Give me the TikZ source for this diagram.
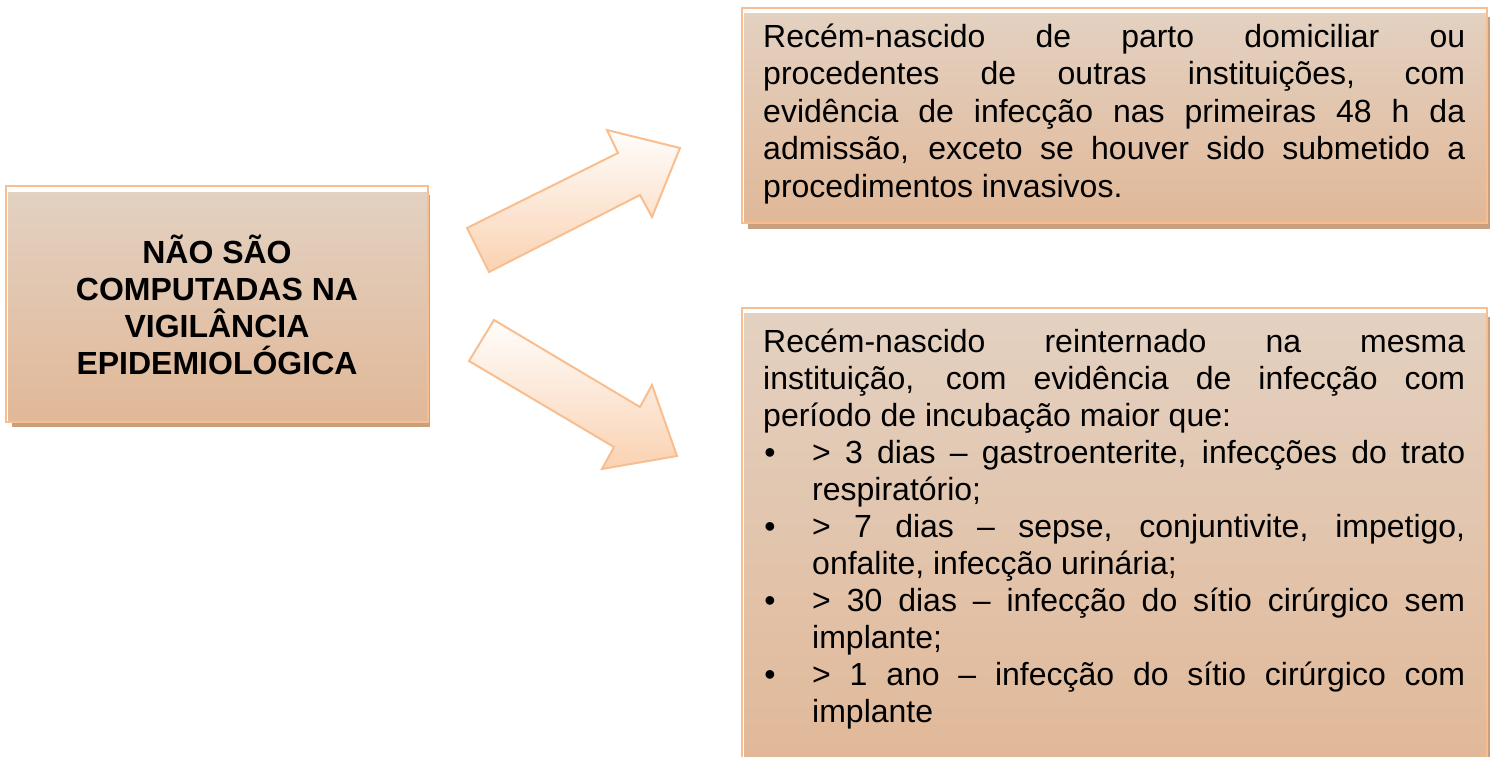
\documentclass[tikz,border=0pt]{standalone}
\usepackage{fontspec}
\setmainfont{Liberation Sans}
\definecolor{edgec}{RGB}{249,190,143}
\definecolor{shadowc}{RGB}{201,160,126}
\definecolor{boxtop}{RGB}{227,209,193}
\definecolor{boxbot}{RGB}{225,184,152}
\definecolor{arrtop}{RGB}{255,253,251}
\definecolor{arrbot}{RGB}{250,210,178}
\begin{document}
\begin{tikzpicture}[x=1pt,y=-1pt,
  boxfill/.style={shading=axis, top color=boxtop, bottom color=boxbot, draw=none},
  boxshadow/.style={fill=shadowc, draw=none},
  boxline/.style={draw=edgec, line width=2pt, inner sep=0pt, outer sep=0pt, anchor=north west},
  arrowshape/.style={draw=edgec, line width=2pt, top color=arrtop, bottom color=arrbot, line join=miter},
  rtext/.style={anchor=base west, inner sep=0pt, font=\fontsize{32}{37.5}\selectfont},
  bul/.style={anchor=base, inner sep=0pt, font=\fontsize{32}{37.5}\selectfont},
  ltext/.style={anchor=base, inner sep=0pt, font=\fontsize{32}{37}\selectfont\bfseries}]
\useasboundingbox (0,0) rectangle (1491,756);
% left box
\fill[boxshadow] (12,195) rectangle (430,427);
\fill[boxfill] (8,192) rectangle (427,421);
\node[boxline, minimum width=422pt, minimum height=236pt] (A) at (6,186) {};
% top right box
\fill[boxshadow] (748,17) rectangle (1490,229);
\fill[boxfill] (744,13) rectangle (1487,222);
\node[boxline, minimum width=745pt, minimum height=215pt] (B) at (742,8) {};
% bottom right box
\fill[boxshadow] (748,317) rectangle (1490,770);
\fill[boxfill] (744,313) rectangle (1487,770);
\node[boxline, minimum width=745pt, minimum height=460pt] (C) at (742,308) {};
% arrows
\draw[arrowshape] (467,228) -- (489,272) -- (640,195) -- (652,217) -- (680,148) -- (607,130) -- (618,153) -- cycle;
\draw[arrowshape] (494,320) -- (469,361) -- (614,447) -- (602,469) -- (677,456) -- (652,385) -- (640,407) -- cycle;
% left text
\node[ltext] (l1) at (217,263) {NÃO SÃO};
\node[ltext] (l2) at (217,300) {COMPUTADAS NA};
\node[ltext] (l3) at (217,337) {VIGILÂNCIA};
\node[ltext] (l4) at (217,374) {EPIDEMIOLÓGICA};
% top right text
\node[rtext] (t1) at (763,47) {\makebox[702pt][s]{Recém-nascido de parto domiciliar ou}};
\node[rtext] (t2) at (763,84.5) {\makebox[702pt][s]{procedentes de outras instituições, com}};
\node[rtext] (t3) at (763,122) {\makebox[702pt][s]{evidência de infecção nas primeiras 48 h da}};
\node[rtext] (t4) at (763,159.5) {\makebox[702pt][s]{admissão, exceto se houver sido submetido a}};
\node[rtext] (t5) at (763,197) {procedimentos invasivos.};
% bottom right text
\node[rtext] (b1) at (763,352) {\makebox[702pt][s]{Recém-nascido reinternado na mesma}};
\node[rtext] (b2) at (763,389) {\makebox[702pt][s]{instituição, com evidência de infecção com}};
\node[rtext] (b3) at (763,426) {período de incubação maior que:};
\node[bul] (d1) at (770,463) {•};
\node[rtext] (b4) at (812,463) {\makebox[653pt][s]{> 3 dias – gastroenterite, infecções do trato}};
\node[rtext] (b5) at (812,500) {respiratório;};
\node[bul] (d2) at (770,537) {•};
\node[rtext] (b6) at (812,537) {\makebox[653pt][s]{> 7 dias – sepse, conjuntivite, impetigo,}};
\node[rtext] (b7) at (812,574) {onfalite, infecção urinária;};
\node[bul] (d3) at (770,611) {•};
\node[rtext] (b8) at (812,611) {\makebox[653pt][s]{> 30 dias – infecção do sítio cirúrgico sem}};
\node[rtext] (b9) at (812,648) {implante;};
\node[bul] (d4) at (770,685) {•};
\node[rtext] (b10) at (812,685) {\makebox[653pt][s]{> 1 ano – infecção do sítio cirúrgico com}};
\node[rtext] (b11) at (812,722) {implante};
\end{tikzpicture}
\end{document}
